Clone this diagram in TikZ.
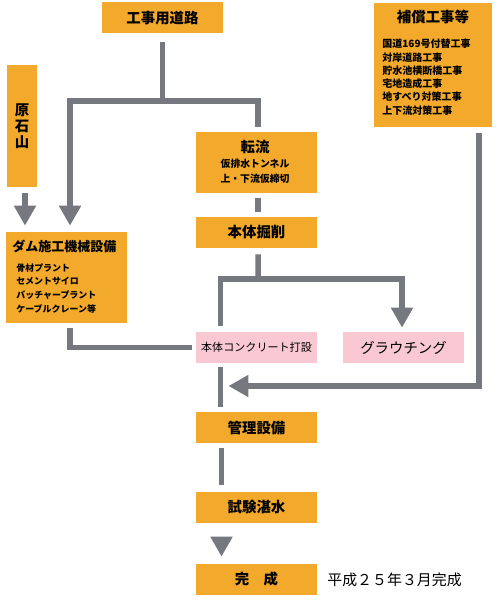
\documentclass[tikz,border=0pt]{standalone}
\usepackage{fontspec}
\setmainfont{Noto Sans CJK JP}
\usetikzlibrary{arrows.meta}
\definecolor{boxorange}{RGB}{243,170,44}
\definecolor{boxpink}{RGB}{249,200,210}
\definecolor{linegray}{RGB}{118,120,127}
\newcommand{\boxtitlefont}{\fontsize{8.2}{9.2}\selectfont\bfseries}
\newcommand{\boxnotefont}{\fontsize{5.6}{7.6}\selectfont\bfseries}

\begin{document}
\begin{tikzpicture}[x=0.02cm,y=-0.02cm]
\tikzstyle{box}=[rectangle,fill=boxorange,inner sep=0pt,minimum width=2.42cm,minimum height=0.62cm,font=\boxtitlefont]
\tikzstyle{pinkbox}=[box,fill=boxpink,font=\fontsize{8.2}{9.2}\selectfont]
\tikzstyle{note}=[inner sep=0pt,align=left,font=\boxnotefont]
\tikzstyle{link}=[draw=linegray,line width=0.11cm]
\tikzstyle{flow}=[link,-{Triangle[width=0.42cm,length=0.4cm]}]
\useasboundingbox (0,0) rectangle (500,601);
\node [box] (road) at (162.5,18) {工事用道路};
\node [box,minimum width=2.36cm,minimum height=2.48cm] (comp) at (433,65) {};
\node [inner sep=0pt,font=\boxtitlefont] (comptitle) at (433,17) {補償工事等};
\node [note,anchor=north west,font=\fontsize{5.7}{7.55}\selectfont\bfseries] (complist) at (382,39) {国道169号付替工事\\対岸道路工事\\貯水池横断橋工事\\宅地造成工事\\地すべり対策工事\\上下流対策工事};
\node [box,minimum width=0.62cm,minimum height=2.44cm,align=center,font=\fontsize{8.2}{9.1}\selectfont\bfseries] (quarry) at (22,126) {原\\石\\山};
\node [box,minimum height=1.22cm] (divert) at (256.5,162.5) {};
\node [inner sep=0pt,font=\boxtitlefont] (divtitle) at (255,147) {転流};
\node [note,align=center,font=\fontsize{5.6}{8.5}\selectfont\bfseries] (divlist) at (255,171.5) {仮排水トンネル\\上・下流仮締切};
\node [box] (excav) at (256.5,232.5) {本体掘削};
\node [box,minimum height=1.82cm] (mach) at (66.5,277.5) {};
\node [inner sep=0pt,anchor=west,font=\fontsize{7.4}{9}\selectfont\bfseries] (machtitle) at (12,246) {ダム施工機械設備};
\node [note,anchor=north west,font=\fontsize{5.1}{7.9}\selectfont\bfseries] (machlist) at (16,263) {骨材プラント\\セメントサイロ\\バッチャープラント\\ケーブルクレーン等};
\node [pinkbox,font=\fontsize{6.3}{8}\selectfont] (conc) at (256.5,347.5) {本体コンクリート打設};
\node [pinkbox] (grout) at (403.5,347.5) {グラウチング};
\node [box] (ctrl) at (256.5,427.5) {管理設備};
\node [box] (test) at (256.5,507.5) {試験湛水};
\node [box] (done) at (256.5,579.5) {完　成};
\node [inner sep=0pt,anchor=west,font=\fontsize{8.5}{10}\selectfont] (donedate) at (327,580) {平成２５年３月完成};
\coordinate (roadfork) at (162.5,101);
\coordinate (excavfork) at (258,279);
\coordinate (merge) at (220.5,386);
\draw [link,shorten <=0.16cm] (road.south) -- (roadfork);
\draw [flow,shorten >=0.12cm] (roadfork) -| ([xshift=0.07cm]mach.north);
\draw [link,shorten >=0.1cm] (roadfork) -| ([xshift=0.03cm]divert.north);
\draw [flow,shorten <=0.12cm,shorten >=0.12cm] ([xshift=0.06cm]quarry.south) -- ([xshift=0.06cm]quarry.south |- mach.north);
\draw [link,shorten <=0.1cm,shorten >=0.1cm] ([xshift=0.03cm]divert.south) -- ([xshift=0.03cm]excav.north);
\draw [link,shorten <=0.12cm] ([xshift=0.03cm]excav.south) -- (excavfork);
\draw [link,shorten >=0.12cm] (excavfork) -| ([xshift=-0.72cm]conc.north);
\draw [flow,shorten >=0.08cm] (excavfork) -| ([xshift=-0.03cm]grout.north);
\draw [link,shorten <=0.1cm,shorten >=0.07cm] ([xshift=0.07cm]mach.south) |- (conc.west);
\draw [link,shorten <=0.08cm,shorten >=0.1cm] ([xshift=-0.72cm]conc.south) -- ([xshift=-0.72cm]ctrl.north);
\draw [flow,shorten <=0.12cm,shorten >=0.16cm] ([xshift=0.92cm]comp.south) |- (merge);
\draw [link,shorten <=0.1cm,shorten >=0.14cm] ([xshift=-0.7cm]ctrl.south) -- ([xshift=-0.7cm]test.north);
\draw [flow,shorten <=0.28cm,shorten >=0.14cm] ([xshift=-0.7cm]test.south) -- ([xshift=-0.7cm]done.north);
\end{tikzpicture}
\end{document}
